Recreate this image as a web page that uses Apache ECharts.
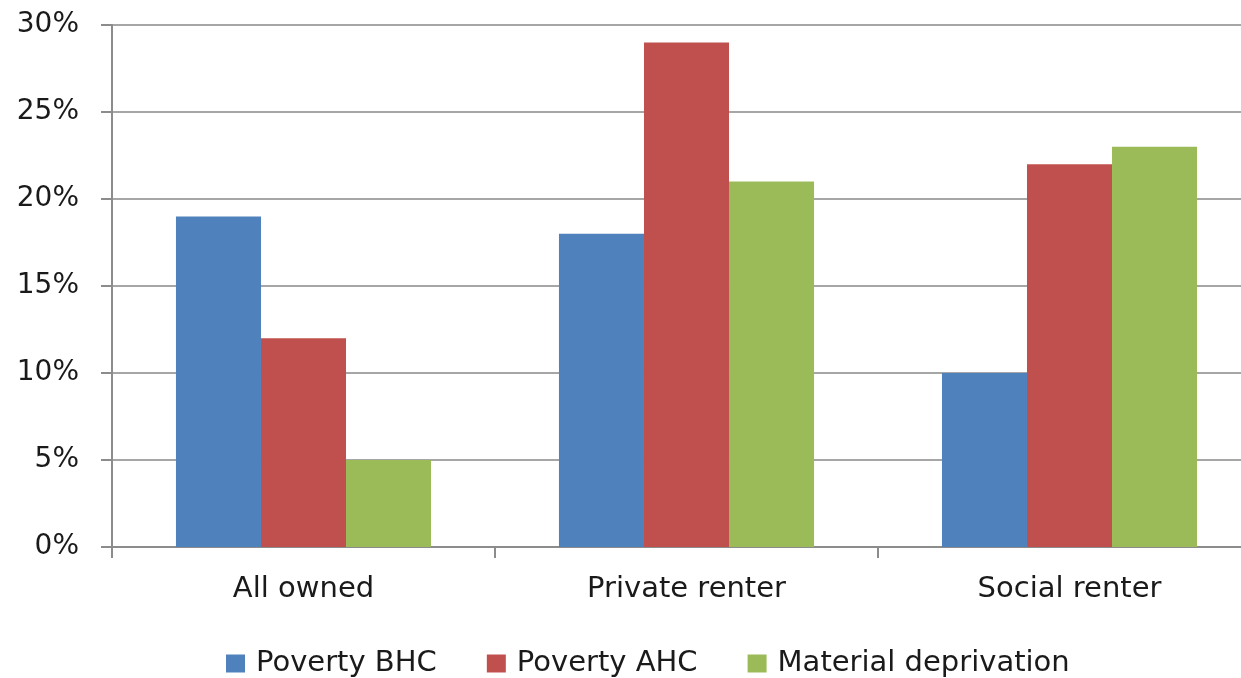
<!DOCTYPE html>
<html><head><meta charset="utf-8">
<script src="https://cdn.jsdelivr.net/npm/echarts@6/dist/echarts.min.js"></script>
<style>html,body{margin:0;padding:0;background:#fff}#c{width:1241px;height:678px}</style>
</head><body><div id="c"></div>
<script>
var categories = ['All owned', 'Private renter', 'Social renter'];
var seriesNames = ['Poverty BHC', 'Poverty AHC', 'Material deprivation'];
var povertyBHC = [19, 18, 10];
var povertyAHC = [12, 29, 22];
var materialDeprivation = [5, 21, 23];
var colors = ['#4F81BD', '#C0504D', '#9BBB59'];
var FONT = 'DejaVu Sans';
var chart = echarts.init(document.getElementById('c'), null, {renderer: 'canvas'});
var values = [povertyBHC, povertyAHC, materialDeprivation];
chart.setOption({
  animation: false,
  textStyle: {fontFamily: FONT},
  grid: {left: 112, top: 25, width: 1149, height: 522, containLabel: false, outerBoundsMode: 'none'},
  legend: {
    left: 221, top: 644,
    itemWidth: 19, itemHeight: 18, itemGap: 50,
    icon: 'rect',
    textStyle: {fontFamily: FONT, fontSize: 29, color: '#1a1a1a', padding: [0, 0, 0, 6]},
    data: seriesNames
  },
  xAxis: {
    type: 'category', data: categories,
    axisLine: {lineStyle: {color: '#8c8c8c', width: 2}},
    axisTick: {show: true, length: 11, lineStyle: {color: '#8c8c8c', width: 2}},
    axisLabel: {fontFamily: FONT, fontSize: 29, color: '#1a1a1a', margin: 28}
  },
  yAxis: {
    type: 'value', min: 0, max: 30, interval: 5,
    axisLine: {show: true, lineStyle: {color: '#8c8c8c', width: 2}},
    axisTick: {show: true, length: 11, lineStyle: {color: '#8c8c8c', width: 2}},
    splitLine: {lineStyle: {color: '#a6a6a6', width: 2}},
    axisLabel: {fontFamily: FONT, fontSize: 28, color: '#1a1a1a', margin: 33, formatter: '{value}%'}
  },
  series: values.map(function (v, i) {
    return {
      type: 'bar', name: seriesNames[i], data: v,
      barGap: '0%', barCategoryGap: '33.4%',
      itemStyle: {color: colors[i]}
    };
  })
});
</script></body></html>
